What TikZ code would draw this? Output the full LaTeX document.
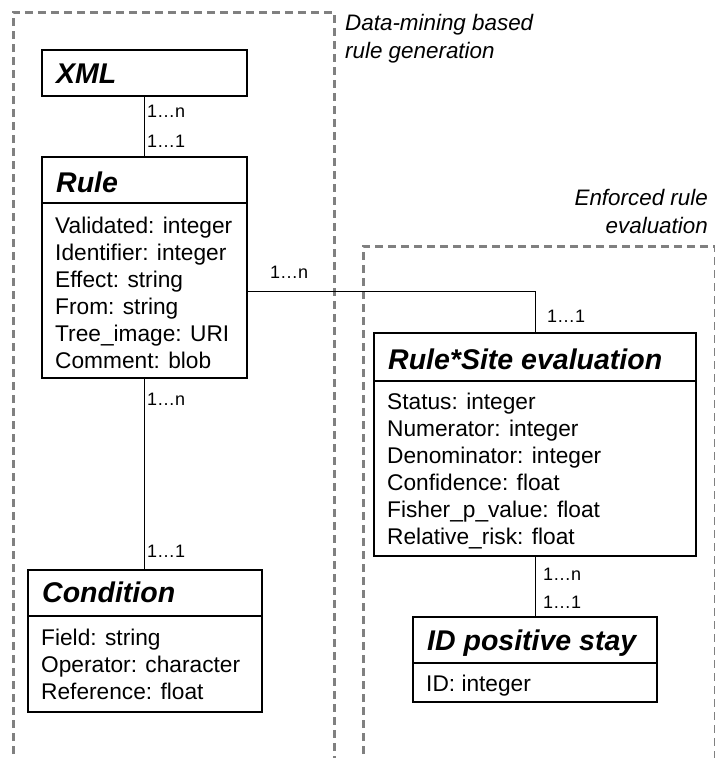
\documentclass[tikz,border=0pt]{standalone}
\usepackage{fontspec}
\setmainfont{Liberation Sans}
\definecolor{regiongray}{HTML}{808080}
\begin{document}
\begin{tikzpicture}[x=1pt,y=-1pt,
  box/.style={draw=black, line width=1.6pt, anchor=north west, inner sep=0pt, outer sep=0pt},
  sep/.style={draw=black, line width=1.6pt},
  conn/.style={draw=black, line width=0.9pt},
  region/.style={draw=regiongray, line width=3pt, dash pattern=on 8pt off 5pt},
  hdr/.style={anchor=base west, inner sep=0pt, font=\fontsize{28.5}{34}\selectfont\bfseries\itshape},
  attr/.style={anchor=base west, inner sep=0pt, font=\fontsize{22.7}{27}\selectfont},
  mult/.style={anchor=base west, inner sep=0pt, font=\fontsize{18}{22}\selectfont},
  rlab/.style={inner sep=0pt, font=\fontsize{22.4}{28}\selectfont\itshape}]
\useasboundingbox (0,0) rectangle (715,758);

% regions
\draw[region] (13,780) -- (13,12) -- (334,12) -- (334,780);
\draw[region] (363,780) -- (363,246) -- (715.5,246) -- (715.5,780);
\node[rlab, anchor=base west] (dm1) at (345,30) {Data-mining based};
\node[rlab, anchor=base west] (dm2) at (345,58) {rule generation};
\node[rlab, anchor=base east] (ef1) at (708,205) {Enforced rule};
\node[rlab, anchor=base east] (ef2) at (708,233) {evaluation};

% boxes
\node[box, minimum width=205pt, minimum height=46pt] (xml) at (42,50) {};
\node[box, minimum width=205pt, minimum height=221pt] (rule) at (42,157) {};
\node[box, minimum width=322pt, minimum height=223pt] (rse) at (374,333) {};
\node[box, minimum width=234pt, minimum height=142pt] (cond) at (28,570) {};
\node[box, minimum width=244pt, minimum height=85pt] (idp) at (413,617) {};

% separators
\draw[sep] ([yshift=-46pt]rule.north west) -- ([yshift=-46pt]rule.north east);
\draw[sep] ([yshift=-48pt]rse.north west) -- ([yshift=-48pt]rse.north east);
\draw[sep] ([yshift=-46pt]cond.north west) -- ([yshift=-46pt]cond.north east);
\draw[sep] ([yshift=-46pt]idp.north west) -- ([yshift=-46pt]idp.north east);

% headers
\node[hdr] (xmlh) at (56,83) {XML};
\node[hdr] (ruleh) at (56,192) {Rule};
\node[hdr] (rseh) at (388,369) {Rule*Site evaluation};
\node[hdr] (condh) at (42,602) {Condition};
\node[hdr] (idph) at (427,650) {ID positive stay};

% attributes
\node[attr] (ra1) at (55,233) {Validated: integer};
\node[attr] (ra2) at (55,260) {Identifier: integer};
\node[attr] (ra3) at (55,287) {Effect: string};
\node[attr] (ra4) at (55,314) {From: string};
\node[attr] (ra5) at (55,341) {Tree\_image: URI};
\node[attr] (ra6) at (55,368) {Comment: blob};

\node[attr] (sa1) at (387,409) {Status: integer};
\node[attr] (sa2) at (387,436) {Numerator: integer};
\node[attr] (sa3) at (387,463) {Denominator: integer};
\node[attr] (sa4) at (387,490) {Confidence: float};
\node[attr] (sa5) at (387,517) {Fisher\_p\_value: float};
\node[attr] (sa6) at (387,544) {Relative\_risk: float};

\node[attr] (ca1) at (41,645) {Field: string};
\node[attr] (ca2) at (41,672) {Operator: character};
\node[attr] (ca3) at (41,699) {Reference: float};

\node[attr] (ia1) at (426,691) {ID: integer};

% connectors
\draw[conn] (xml.south) -- (rule.north);
\draw[conn] (rule.south) -- (rule.south |- cond.north);
\draw[conn] ([yshift=-23.5pt]rule.east) -| (rse.north);
\draw[conn] (rse.south) -- (idp.north);

% multiplicities
\node[mult] (m1) at (147,117) {1…n};
\node[mult] (m2) at (147,147) {1…1};
\node[mult] (m3) at (147,405) {1…n};
\node[mult] (m4) at (147,557) {1…1};
\node[mult] (m5) at (270,278) {1…n};
\node[mult] (m6) at (547,322) {1…1};
\node[mult] (m7) at (543,580) {1…n};
\node[mult] (m8) at (543,608) {1…1};
\end{tikzpicture}
\end{document}
